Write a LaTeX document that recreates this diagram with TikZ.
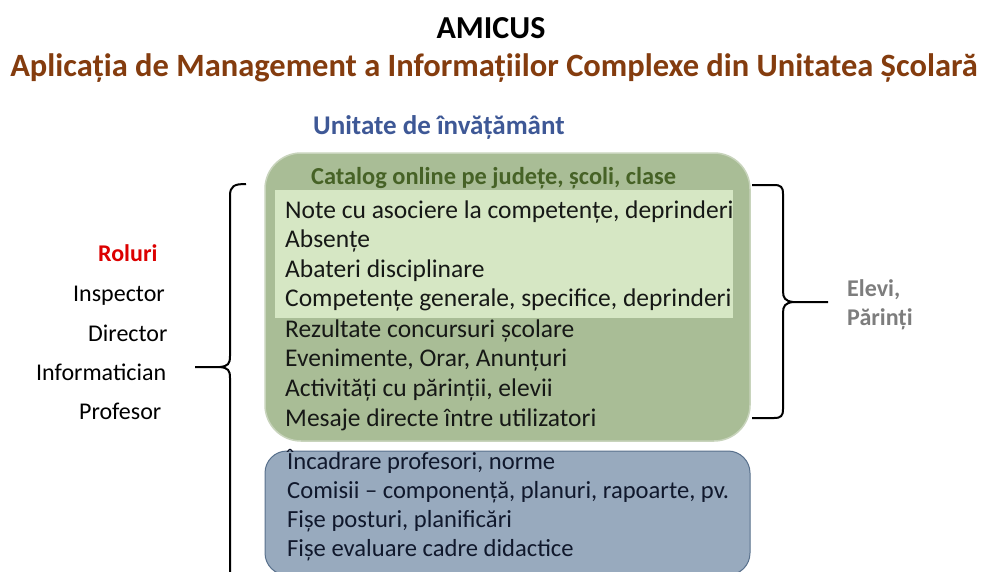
\documentclass[tikz,border=0pt]{standalone}
\usepackage{fontspec}
\setmainfont{Carlito}
\definecolor{titlebrown}{RGB}{132,60,14}
\definecolor{unitblue}{RGB}{62,88,150}
\definecolor{catgreen}{RGB}{70,98,38}
\definecolor{roluri}{RGB}{220,0,0}
\definecolor{elevigray}{RGB}{125,125,125}
\definecolor{greenfill}{RGB}{169,189,150}
\definecolor{greenborder}{RGB}{200,212,188}
\definecolor{innerfill}{RGB}{214,231,196}
\definecolor{bluefill}{RGB}{152,170,190}
\definecolor{blueborder}{RGB}{88,112,140}
\definecolor{boxtext}{RGB}{22,24,22}
\definecolor{bluetext}{RGB}{16,24,44}
\tikzset{
  txt/.style={anchor=base west,inner sep=0pt,font=\fontsize{25.5}{30}\selectfont,text=boxtext},
  btxt/.style={txt,font=\fontsize{24.6}{29}\selectfont,text=bluetext},
  role/.style={anchor=base west,inner sep=0pt,font=\fontsize{24}{29}\selectfont,text=black},
  bracestyle/.style={draw=black,line width=2pt},
}
\begin{document}
\begin{tikzpicture}[x=1pt,y=-1pt]
\useasboundingbox (0,0) rectangle (981,571);
\fill[white] (0,0) rectangle (981,571);

% titles
\node[anchor=base,inner sep=0pt,font=\fontsize{32}{38}\bfseries\selectfont] (amicus) at (491,38) {AMICUS};
\node[anchor=base,inner sep=0pt,font=\fontsize{32.5}{38}\bfseries\selectfont,text=titlebrown] (subtitle) at (494,76) {Aplicația de Management a Informațiilor Complexe din Unitatea Școlară};
\node[anchor=base west,inner sep=0pt,font=\fontsize{27}{32}\bfseries\selectfont,text=unitblue] (unit) at (313,134) {Unitate de învățământ};

% boxes
\draw[draw=greenborder,line width=1.5pt,fill=greenfill,rounded corners=36pt] (265,153) rectangle (750,441);
\fill[innerfill] (275,190) rectangle (733,318);
\draw[draw=blueborder,line width=1pt,fill=bluefill,rounded corners=22pt] (265,451) rectangle (750,575);

\node[anchor=base west,inner sep=0pt,font=\fontsize{24.4}{29}\bfseries\selectfont,text=catgreen] (catalog) at (311,184) {Catalog online pe județe, școli, clase};

\node[txt] (l1) at (285,218) {Note cu asociere la competențe, deprinderi};
\node[txt] (l2) at (285,247.6) {Absențe};
\node[txt] (l3) at (285,277.1) {Abateri disciplinare};
\node[txt] (l4) at (285,306.7) {Competențe generale, specifice, deprinderi};
\node[txt] (l5) at (285,337.3) {Rezultate concursuri școlare};
\node[txt] (l6) at (285,366.8) {Evenimente, Orar, Anunțuri};
\node[txt] (l7) at (285,396.4) {Activități cu părinții, elevii};
\node[txt] (l8) at (285,426) {Mesaje directe între utilizatori};

\node[btxt] (b1) at (287,469) {Încadrare profesori, norme};
\node[btxt] (b2) at (287,498) {Comisii – componență, planuri, rapoarte, pv.};
\node[btxt] (b3) at (287,527) {Fișe posturi, planificări};
\node[btxt] (b4) at (287,556) {Fișe evaluare cadre didactice};

% roles
\node[role,font=\fontsize{24}{29}\bfseries\selectfont,text=roluri] (roluri) at (98,261) {Roluri};
\node[role] (r1) at (73,301) {Inspector};
\node[role] (r2) at (88,341) {Director};
\node[role] (r3) at (36,380) {Informatician};
\node[role] (r4) at (79,419) {Profesor};

% elevi
\node[anchor=base west,inner sep=0pt,font=\fontsize{24}{29}\bfseries\selectfont,text=elevigray] (elevi) at (847,296) {Elevi,};
\node[anchor=base west,inner sep=0pt,font=\fontsize{24}{29}\bfseries\selectfont,text=elevigray] (parinti) at (847,325) {Părinți};

% braces
\coordinate (ltip) at (195,367);
\coordinate (rtip) at (828,302);
\draw[bracestyle] (246,184) .. controls (234,184) and (230,186) .. (230,196) -- (230,356)
  .. controls (230,364) and (228,366) .. (220,367) -- (ltip);
\draw[bracestyle] (220,367) .. controls (228,368) and (230,370) .. (230,378) -- (230,580);
\draw[bracestyle] (752,185) -- (774,185) .. controls (781,185) and (783,187) .. (783,194) -- (783,291)
  .. controls (783,298) and (785,301) .. (793,302) -- (rtip);
\draw[bracestyle] (793,302) .. controls (785,303) and (783,306) .. (783,313) -- (783,409)
  .. controls (783,416) and (781,418) .. (774,418) -- (752,418);
\end{tikzpicture}
\end{document}
